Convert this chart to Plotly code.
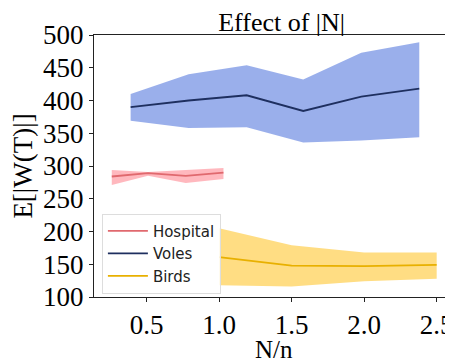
import plotly.graph_objects as go

# Hospital
hosp_x = [0.26, 0.51, 0.77, 1.03]
hosp_mean = [284, 289, 285, 290]
hosp_hi = [294, 291, 294, 297]
hosp_lo = [271, 285, 274, 280]

# Voles
voles_x = [0.39, 0.79, 1.19, 1.58, 1.98, 2.38]
voles_mean = [390, 400, 408, 384, 406, 418]
voles_hi = [410, 440, 454, 432, 473, 489]
voles_lo = [369, 358, 359, 336, 339, 344]

# Birds
birds_x = [1.0, 1.5, 2.0, 2.5]
birds_mean = [161, 148, 147, 149]
birds_hi = [205, 179, 168, 168]
birds_lo = [118, 116, 124, 128]

x_ticks = [0.5, 1.0, 1.5, 2.0, 2.5]
x_ticklabels = ["0.5", "1.0", "1.5", "2.0", "2.5"]
y_ticks = [100, 150, 200, 250, 300, 350, 400, 450, 500]

series = [
    ("Hospital", hosp_x, hosp_mean, hosp_hi, hosp_lo, "#E0696E", "rgba(255,160,168,0.75)"),
    ("Voles", voles_x, voles_mean, voles_hi, voles_lo, "#1E2F5F", "rgba(120,148,228,0.75)"),
    ("Birds", birds_x, birds_mean, birds_hi, birds_lo, "#E8B000", "rgba(255,210,90,0.75)"),
]

fig = go.Figure()
for name, xs, m, hi, lo, lc, fc in series:
    fig.add_trace(go.Scatter(x=xs + xs[::-1], y=hi + lo[::-1], fill="toself",
                             fillcolor=fc, line=dict(width=0), mode="lines",
                             showlegend=False, hoverinfo="skip"))
for name, xs, m, hi, lo, lc, fc in series:
    fig.add_trace(go.Scatter(x=xs, y=m, mode="lines", name=name,
                             line=dict(color=lc, width=1.8)))

serif = "Liberation Serif, Times New Roman, serif"
fig.update_layout(
    width=453, height=364,
    margin=dict(l=86, r=8, t=27, b=75),
    paper_bgcolor="white", plot_bgcolor="white",
    title=dict(text="Effect of |N|", x=0.604, xanchor="center", y=0.9615, yanchor="middle",
               font=dict(family=serif, size=26, color="black")),
    font=dict(family=serif, color="black"),
    xaxis=dict(range=[0.1375, 2.6125], tickvals=x_ticks, ticktext=x_ticklabels,
               showgrid=False, zeroline=False, showline=True, linecolor="#222",
               linewidth=1, mirror=True, ticks="outside", ticklen=4, tickcolor="#222",
               tickfont=dict(family=serif, size=27), automargin=False,
               ticklabeloverflow="allow"),
    yaxis=dict(range=[100, 500], tickvals=y_ticks, showgrid=False, zeroline=False,
               showline=True, linecolor="#222", linewidth=1, ticks="outside",
               ticklen=4, tickcolor="#222", tickfont=dict(family=serif, size=27),
               automargin=False, ticklabeloverflow="allow",
               title=dict(text="E[|W(T)|]", font=dict(family=serif, size=27), standoff=2)),
    legend=dict(x=0.022, y=0.318, xanchor="left", yanchor="top",
                bgcolor="rgba(255,255,255,0.85)", bordercolor="#ddd", borderwidth=1,
                font=dict(family="DejaVu Sans, sans-serif", size=15, color="#222"),
                tracegroupgap=0, itemwidth=40),
    annotations=[dict(text="N/n", xref="paper", yref="paper", x=0.5, y=-0.2,
                      xanchor="center", yanchor="middle", showarrow=False,
                      font=dict(family=serif, size=25, color="black"))],
)

fig.write_html("out.html")
